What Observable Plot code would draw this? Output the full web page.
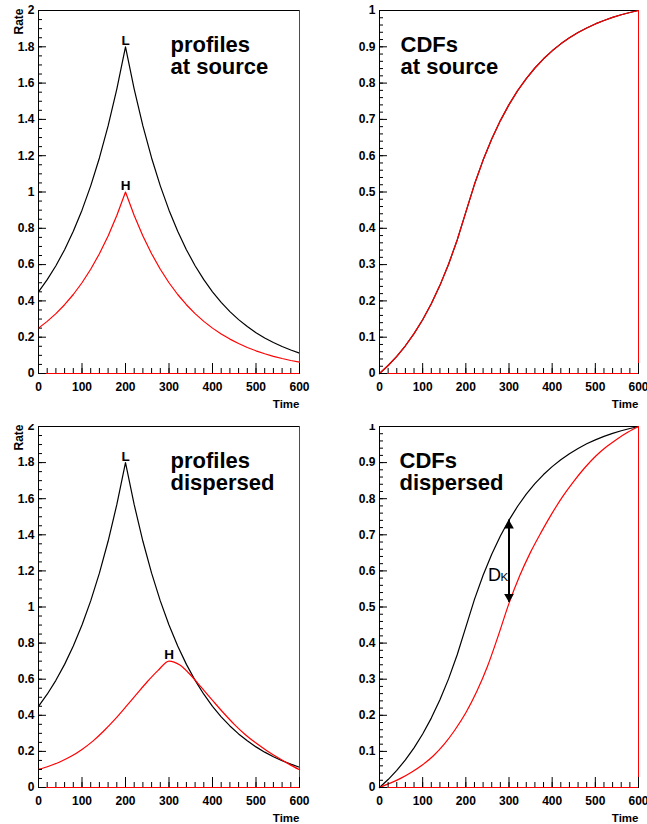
<!DOCTYPE html>
<html><head><meta charset="utf-8">
<script src="https://cdn.jsdelivr.net/npm/d3@7"></script>
<script src="https://cdn.jsdelivr.net/npm/@observablehq/plot@0.6"></script>
<style>
body{margin:0;background:#fff;}
#wrap{position:relative;width:647px;height:824px;overflow:hidden;background:#fff;}
#wrap svg{position:absolute;}
</style></head><body><div id="wrap"></div>
<script>
// ---- data ----
const time20 = [0,20,40,60,80,100,120,140,160,180,200,220,240,260,280,300,320,340,360,380,400,420,440,460,480,500,520,540,560,580,600];
const rateL = [0.45,0.5169,0.5938,0.6821,0.7835,0.9,1.0338,1.1876,1.3641,1.567,1.8,1.567,1.3641,1.1876,1.0338,0.9,0.7835,0.6821,0.5938,0.5169,0.45,0.3917,0.341,0.2969,0.2585,0.225,0.1959,0.1705,0.1484,0.1292,0.1125];
const rateH = [0.25,0.2872,0.3299,0.3789,0.4353,0.5,0.5743,0.6598,0.7579,0.8706,1,0.8706,0.7579,0.6598,0.5743,0.5,0.4353,0.3789,0.3299,0.2872,0.25,0.2176,0.1895,0.1649,0.1436,0.125,0.1088,0.0947,0.0825,0.0718,0.0625];
const cdfSource = [0,0.022,0.0473,0.0764,0.1098,0.1481,0.1922,0.2428,0.3009,0.3677,0.4444,0.5212,0.5879,0.6461,0.6967,0.7407,0.7791,0.8125,0.8416,0.8669,0.8889,0.9081,0.9248,0.9393,0.952,0.963,0.9726,0.9809,0.9882,0.9945,1];
const time25 = [0,25,50,75,100,125,150,175,200,225,250,275,300,325,350,375,400,425,450,475,500,525,550,575,600];
const rateHDispersed = [0.10,0.119,0.143,0.173,0.211,0.257,0.313,0.376,0.445,0.516,0.586,0.649,0.70,0.678,0.622,0.553,0.483,0.414,0.35,0.294,0.246,0.204,0.166,0.131,0.098];
const cdfHDispersed = [0,0.012,0.026,0.043,0.063,0.088,0.12,0.16,0.207,0.265,0.335,0.42,0.51,0.587,0.652,0.708,0.76,0.807,0.848,0.885,0.917,0.943,0.965,0.984,1];
const timeTicks = [0,100,200,300,400,500,600];
const timeMinor = d3.range(0, 601, 20);
const rateTicks = [0,0.2,0.4,0.6,0.8,1,1.2,1.4,1.6,1.8,2];
const rateMinor = d3.range(0, 2.001, 0.05);
const cdfTicks = [0,0.1,0.2,0.3,0.4,0.5,0.6,0.7,0.8,0.9,1];
const cdfMinor = d3.range(0, 1.001, 0.02);
const peakLabels = {L: {t: 200, v: 1.8}, Hsrc: {t: 200, v: 1}, Hdisp: {t: 300, v: 0.7}};
const dk = {t: 300, top: 0.741, bottom: 0.513, labelY: 0.573};

const RED = "#ff0000";
const FONT = "'Liberation Sans', Arial, Helvetica, sans-serif";
const wrap = document.getElementById("wrap");
const series = (xs, ys) => xs.map((t, i) => ({t, v: ys[i]}));

function panel({left, top, width, height, ml, mr, mt, mb, yDomain, yTicks, yMinor, yLabel, title, titleDx, marks}) {
  const fw = width - ml - mr, fh = height - mt - mb;
  const p = Plot.plot({
    width, height, marginLeft: ml, marginRight: mr, marginTop: mt, marginBottom: mb,
    x: {domain: [0, 600], axis: null},
    y: {domain: yDomain, axis: null},
    style: {fontFamily: FONT, background: "transparent", overflow: "hidden"},
    marks: [
      Plot.frame({stroke: "black"}),
      ...marks,
      Plot.ruleY([0], {stroke: RED}),
      Plot.ruleX([600], {stroke: RED}),
      Plot.tickX(timeMinor, {x: d => d, stroke: "black", insetTop: fh - 5}),
      Plot.tickX(timeTicks, {x: d => d, stroke: "black", insetTop: fh - 10}),
      Plot.tickY(yMinor, {y: d => d, stroke: "black", insetRight: fw - 4}),
      Plot.tickY(yTicks, {y: d => d, stroke: "black", insetRight: fw - 8}),
      Plot.text(yTicks, {y: d => d, text: d => String(d), frameAnchor: "left", textAnchor: "end", dx: -4, fontWeight: "bold", fontSize: 12, fill: "black"}),
      Plot.text(timeTicks, {x: d => d, text: d => String(d), frameAnchor: "bottom", lineAnchor: "top", dy: 9, fontWeight: "bold", fontSize: 12, fill: "black"}),
      Plot.text(["Time"], {text: d => d, frameAnchor: "bottom-right", textAnchor: "end", lineAnchor: "bottom", dy: 34, fontWeight: "bold", fontSize: 11.5, fill: "black"}),
      yLabel ? Plot.text([yLabel], {text: d => d, frameAnchor: "top-left", rotate: -90, textAnchor: "end", lineAnchor: "bottom", dx: -16, dy: -2, fontWeight: "bold", fontSize: 12, fill: "black"}) : null,
      Plot.text([title], {text: d => d, frameAnchor: "top-left", textAnchor: "start", lineAnchor: "top", lineHeight: 0.98, dx: titleDx, dy: 26.5, fontWeight: "bold", fontSize: 22, fill: "black"})
    ]
  });
  p.style.left = left + "px";
  p.style.top = top + "px";
  wrap.append(p);
}

const peakText = (o, s) => Plot.text([o], {x: "t", y: "v", text: () => s, lineAnchor: "bottom", dy: -2, fontWeight: "bold", fontSize: 13.5, fill: "black"});

// top-left: profiles at source
panel({left: 0, top: 0, width: 323, height: 418, ml: 38, mr: 24, mt: 10, mb: 45,
  yDomain: [0, 2], yTicks: rateTicks, yMinor: rateMinor, yLabel: "Rate",
  title: "profiles\nat source", titleDx: 132,
  marks: [
    Plot.line(series(time20, rateL), {x: "t", y: "v", stroke: "black", strokeWidth: 1.2}),
    Plot.line(series(time20, rateH), {x: "t", y: "v", stroke: RED, strokeWidth: 1.2}),
    peakText(peakLabels.L, "L"),
    peakText(peakLabels.Hsrc, "H")
  ]});

// top-right: CDFs at source
panel({left: 323, top: 0, width: 324, height: 418, ml: 56, mr: 9, mt: 10, mb: 45,
  yDomain: [0, 1], yTicks: cdfTicks, yMinor: cdfMinor, yLabel: null,
  title: "CDFs\nat source", titleDx: 21,
  marks: [
    Plot.line(series(time20, cdfSource), {x: "t", y: "v", stroke: "black", strokeWidth: 1.2}),
    Plot.line(series(time20, cdfSource), {x: "t", y: "v", stroke: RED, strokeWidth: 1.2})
  ]});

// bottom-left: profiles dispersed
panel({left: 0, top: 424, width: 323, height: 400, ml: 38, mr: 24, mt: 2, mb: 37,
  yDomain: [0, 2], yTicks: rateTicks, yMinor: rateMinor, yLabel: "Rate",
  title: "profiles\ndispersed", titleDx: 132,
  marks: [
    Plot.line(series(time20, rateL), {x: "t", y: "v", stroke: "black", strokeWidth: 1.2}),
    Plot.line(series(time25, rateHDispersed), {x: "t", y: "v", stroke: RED, strokeWidth: 1.2, curve: "monotone-x"}),
    peakText(peakLabels.L, "L"),
    peakText(peakLabels.Hdisp, "H")
  ]});

// bottom-right: CDFs dispersed
panel({left: 323, top: 424, width: 324, height: 400, ml: 56, mr: 9, mt: 2, mb: 37,
  yDomain: [0, 1], yTicks: cdfTicks, yMinor: cdfMinor, yLabel: null,
  title: "CDFs\ndispersed", titleDx: 20,
  marks: [
    Plot.line(series(time20, cdfSource), {x: "t", y: "v", stroke: "black", strokeWidth: 1.2}),
    Plot.line(series(time25, cdfHDispersed), {x: "t", y: "v", stroke: RED, strokeWidth: 1.2, curve: "monotone-x"}),
    Plot.ruleX([dk], {x: "t", y1: "bottom", y2: "top", stroke: "black", strokeWidth: 2}),
    Plot.dot([dk], {x: "t", y: "top", symbol: "triangle", r: 3.6, fill: "black", stroke: "none", dy: 5.6}),
    Plot.dot([dk], {x: "t", y: "bottom", symbol: "triangle", r: 3.6, fill: "black", stroke: "none", rotate: 180, dy: -5.6}),
    Plot.text([dk], {x: "t", y: "labelY", text: () => "D", textAnchor: "start", lineAnchor: "bottom", dx: -21, fontSize: 18, fill: "black"}),
    Plot.text([dk], {x: "t", y: "labelY", text: () => "K", textAnchor: "start", lineAnchor: "bottom", dx: -8.5, fontSize: 11.5, fill: "black"})
  ]});
</script></body></html>
